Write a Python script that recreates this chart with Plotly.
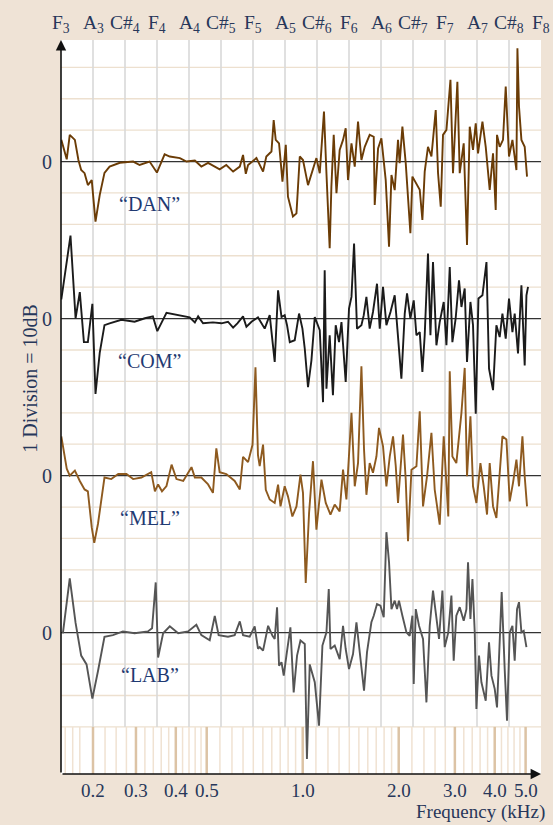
import math
import plotly.graph_objects as go

# ---------------- data ----------------
note_labels = ["F<sub>3</sub>", "A<sub>3</sub>", "C#<sub>4</sub>", "F<sub>4</sub>", "A<sub>4</sub>",
               "C#<sub>5</sub>", "F<sub>5</sub>", "A<sub>5</sub>", "C#<sub>6</sub>", "F<sub>6</sub>",
               "A<sub>6</sub>", "C#<sub>7</sub>", "F<sub>7</sub>", "A<sub>7</sub>", "C#<sub>8</sub>",
               "F<sub>8</sub>"]
note_freqs = [174.61, 220.00, 277.18, 349.23, 440.00, 554.37, 698.46, 880.00, 1108.73,
              1396.91, 1760.00, 2217.46, 2793.83, 3520.00, 4434.92, 5587.65]

khz_tick_freqs = [220, 300, 400, 500, 1000, 2000, 3000, 4000, 5000]
khz_tick_labels = ["0.2", "0.3", "0.4", "0.5", "1.0", "2.0", "3.0", "4.0", "5.0"]

ruler_minor = [180, 190, 200, 240, 260, 280, 320, 340, 360, 380, 420, 440, 460, 480,
               550, 600, 650, 700, 750, 800, 850, 900, 950,
               1100, 1200, 1300, 1400, 1500, 1600, 1700, 1800, 1900,
               2200, 2400, 2600, 2800, 3200, 3400, 3600, 3800, 4200, 4400, 4600, 4800]

dan_freq = [175, 182, 186, 193, 198, 202, 207, 212, 218, 224,
            231, 239, 248, 267, 294, 308, 331, 349, 369, 383,
            412, 432, 459, 481, 505, 549, 576, 605, 635, 650,
            663, 674, 716, 733, 751, 769, 798, 811, 823, 843,
            864, 885, 899, 932, 956, 979, 1002, 1039, 1077, 1104,
            1131, 1166, 1187, 1215, 1230, 1251, 1276, 1306, 1338, 1364,
            1387, 1422, 1456, 1491, 1528, 1565, 1622, 1670, 1682, 1723,
            1765, 1821, 1865, 1898, 1943, 1990, 2014, 2054, 2104, 2176,
            2208, 2273, 2328, 2373, 2413, 2471, 2533, 2613, 2657, 2709,
            2754, 2823, 2906, 2960, 3055, 3107, 3198, 3275, 3340, 3420,
            3488, 3546, 3661, 3749, 3858, 3952, 4029, 4067, 4147, 4247,
            4331, 4435, 4546, 4679, 4713, 4767, 4851, 4967, 5051]
dan_db = [6.9, 0.7, 8.5, 6.9, 0.5, -2.7, -3.7, -7.5, -5.9, -19.1,
          -10.6, -3.6, -1.6, -0.4, 0, -1.1, 0, -3.5, 2.3, 1.6,
          1.1, 0, 0.3, -1.6, -0.4, -2.5, -1.1, -3.2, -1.6, 2.1,
          -3.9, -1.1, 1.1, -1.1, -3.2, 1.6, 3.2, 13.2, 6.9, 5.8,
          -6.4, 5.3, -11.2, -17.5, -16.5, 1.6, 0.5, -7.5, -2.7, 1.1,
          -3.7, 15.9, -3.7, -27.6, -8.0, 8.5, -10.1, 3.7, 6.9, 10.6,
          -5.9, 5.8, -1.6, 12.7, 0.5, 4.7, 8.5, 7.9, -13.8, 4.2,
          7.4, -5.9, -27.1, -4.3, -9.1, 6.9, -0.5, 11.1, -0.5, -22.8,
          -4.8, -6.9, -9.0, -18.6, -3.2, 4.7, 1.6, 16.4, -3.7, -14.4,
          8.5, 10.1, 26.0, -3.7, 25.4, -3.7, 5.8, -26.6, 11.1, 3.7,
          12.2, 2.6, 12.7, 4.7, -9.0, 2.6, -15.4, 8.5, 4.7, 6.9,
          23.9, 1.6, 6.9, -2.7, 36.1, 17.5, 6.9, 4.7, -4.8]

com_freq = [175, 187, 194, 200, 206, 212, 219, 224, 231, 239,
            248, 270, 297, 320, 339, 350, 374, 407, 442, 459,
            470, 487, 523, 556, 583, 605, 624, 650, 666, 691,
            724, 733, 760, 788, 817, 837, 858, 878, 893, 911,
            944, 974, 998, 1015, 1039, 1065, 1091, 1131, 1158, 1172,
            1187, 1215, 1244, 1269, 1300, 1323, 1364, 1397, 1422, 1449,
            1480, 1528, 1554, 1584, 1622, 1661, 1710, 1744, 1786, 1830,
            1885, 1943, 1990, 2039, 2089, 2124, 2176, 2229, 2273, 2328,
            2373, 2413, 2471, 2515, 2562, 2626, 2689, 2768, 2823, 2891,
            2947, 3017, 3091, 3146, 3221, 3275, 3357, 3420, 3488, 3557,
            3661, 3769, 3839, 3952, 4049, 4147, 4229, 4331, 4435, 4546,
            4621, 4733, 4851, 4967, 5030, 5088]
com_db = [6.1, 26.4, 0.1, 8.4, -7.5, -7.5, 4.7, -24.0, -10.8, -2.1,
          -1.5, -0.4, -1.0, 0.1, 0.7, -4.0, 1.8, 1.0, 0.4, -1.2,
          0.7, -1.5, -1.2, -1.5, -1.0, -2.9, -1.5, 0.7, -2.6, -1.0,
          0.4, -0.5, -3.2, 1.1, -13.8, 9.0, 0.5, 1.1, -2.1, -7.5,
          -6.9, 1.6, -3.2, -9.6, -21.8, -13.3, 0.5, -3.7, -26.6, 15.4,
          -22.3, -5.3, -24.4, -2.1, -7.5, -1.1, -20.2, 3.2, 6.9, 23.9,
          -3.2, -2.1, 1.1, 6.9, -3.2, 2.1, 11.1, -3.2, 10.1, -2.1,
          2.1, 7.4, -5.3, -19.1, 1.6, 8.0, 0, 5.8, -5.3, -4.3,
          -17.0, -5.3, 20.7, -5.3, 18.0, -8.5, -1.1, 5.3, -8.5, 16.4,
          -7.5, 0, 12.2, 3.7, 9.6, -13.8, 5.3, -2.1, -30.3, 6.4,
          7.4, 18.0, -15.9, -22.8, -2.1, -5.9, 1.6, -6.4, 6.4, -4.3,
          1.6, -11.1, 10.6, -14.9, 7.4, 10.1]

mel_freq = [175, 182, 186, 193, 200, 207, 212, 218, 222, 228,
            239, 251, 264, 280, 294, 312, 335, 344, 352, 362,
            374, 388, 402, 422, 448, 459, 481, 505, 523, 536,
            549, 576, 612, 635, 650, 674, 696, 711, 724, 733,
            751, 766, 788, 817, 837, 852, 878, 899, 928, 956,
            984, 1002, 1022, 1047, 1077, 1104, 1145, 1181, 1222, 1260,
            1306, 1338, 1371, 1387, 1422, 1456, 1491, 1528, 1557, 1584,
            1622, 1661, 1703, 1735, 1786, 1830, 1875, 1920, 1958, 1990,
            2063, 2104, 2139, 2193, 2273, 2328, 2384, 2454, 2533, 2594,
            2689, 2768, 2823, 2861, 2891, 2947, 3032, 3091, 3146, 3221,
            3275, 3357, 3420, 3505, 3608, 3695, 3784, 3858, 3952, 4049,
            4147, 4229, 4353, 4458, 4565, 4679, 4767, 4886, 4967, 5051]
mel_db = [12.5, 2.2, 0, 1.6, -1.7, -4.4, -5.0, -16.5, -21.4, -15.4,
          -0.6, -1.1, 0.5, 0.5, -1.1, -0.6, 1.1, -5.0, -2.8, -5.0,
          -3.3, 3.5, -1.1, -1.7, 2.7, -0.6, -0.6, -2.8, -5.5, 8.7,
          1.1, 0.5, -1.7, -4.4, 6.0, 4.3, 9.8, 34.5, 6.5, 3.0,
          9.9, -4.5, -7.6, -8.7, -2.9, -9.8, -3.4, -6.6, -13.0, -9.8,
          0.3, -5.5, -34.2, -11.9, 4.6, -17.2, -1.3, -8.7, -12.4, -9.2,
          -11.4, 1.9, -7.6, 0.9, 20.0, -3.4, 4.0, 34.8, 8.3, -6.1,
          4.0, 0.9, 6.1, 15.2, 9.3, -3.4, 6.1, 12.5, 3.0, -8.7,
          13.1, -1.3, -20.9, 1.9, 3.0, 20.5, -9.8, -0.2, 13.6, -4.5,
          -15.6, 12.5, -2.3, -13.0, 33.2, 6.1, 4.0, 12.5, 20.0, 34.3,
          -0.2, 18.9, -3.4, -8.7, 4.0, -3.4, -12.4, 4.0, -9.8, -13.5,
          0.9, 12.5, 11.5, -8.2, -2.3, 5.1, -3.4, 12.5, -0.2, -9.8]

lab_freq = [177, 186, 194, 202, 210, 219, 228, 239, 254, 273,
            297, 327, 337, 346, 352, 365, 383, 407, 437, 464,
            481, 511, 530, 545, 583, 612, 635, 650, 682, 707,
            724, 733, 751, 779, 804, 817, 831, 843, 858, 872,
            889, 915, 937, 960, 984, 1015, 1031, 1052, 1091, 1125,
            1153, 1187, 1207, 1222, 1260, 1306, 1338, 1364, 1397, 1438,
            1474, 1509, 1557, 1591, 1642, 1670, 1710, 1753, 1795, 1830,
            1865, 1898, 1943, 1976, 2004, 2054, 2115, 2165, 2208, 2229,
            2262, 2316, 2384, 2443, 2502, 2562, 2626, 2676, 2742, 2788,
            2861, 2926, 2975, 3032, 3107, 3198, 3261, 3299, 3357, 3406,
            3463, 3505, 3572, 3634, 3749, 3839, 3907, 4000, 4067, 4147,
            4207, 4299, 4372, 4458, 4546, 4621, 4700, 4767, 4851, 4932, 5030]
lab_db = [-0.2, 17.3, 3.1, -7.3, -10.1, -21.0, -12.3, -1.3, -0.8, 0.4,
          -0.2, 0.4, 1.4, 16.0, -7.9, -0.2, 2.0, -0.2, 0.4, 2.5,
          -0.8, -2.4, 5.3, -0.8, -1.3, -0.8, 3.6, -0.8, -1.3, 2.0,
          -5.1, -4.6, -5.7, 2.2, -1.0, -2.0, 8.1, -10.5, -9.4, -13.7,
          -7.3, 1.7, -19.0, -7.3, -2.5, -3.6, -40.2, -10.1, -15.8, -29.6,
          -4.1, 0.1, 13.9, -5.2, -4.1, -8.4, 2.2, -5.2, -11.6, -6.8,
          3.3, -5.2, -18.5, -6.2, 3.3, 5.4, 9.1, 8.6, 4.9, 32.0,
          22.4, 7.5, 10.2, 7.5, 10.2, 5.4, 0.1, -1.0, 5.4, -16.3,
          7.5, 2.2, -2.0, -22.2, 2.2, 13.4, 4.4, -2.0, 13.4, -4.6,
          0.1, 11.8, -8.9, 5.4, 8.1, 3.8, 7.5, 22.4, 4.4, 17.1,
          0.1, -24.3, -7.3, -15.8, -21.7, -3.1, -13.7, -17.9, -23.8, -4.1,
          12.9, -11.6, -28.0, 0.1, 2.2, -8.9, 7.5, 9.7, 0.1, 0.6, -4.6]

series_names = ["DAN", "COM", "MEL", "LAB"]
series_freqs = [dan_freq, com_freq, mel_freq, lab_freq]
series_dbs = [dan_db, com_db, mel_db, lab_db]

# ---------------- styling / layout constants ----------------
offsets = [0, -50, -100, -150]          # vertical placement of each curve (dB)
colors = ["#6b3c06", "#1b1b1b", "#8e5a1f", "#555555"]
Y_TOP, Y_BOT, GRID_BOT = 38.7, -195.0, -180
F_LO, F_HI = note_freqs[0], note_freqs[-1]
SERIF = "Liberation Serif, Times New Roman, serif"
TXT = "#27375a"
LBL = "#1f3a72"
BG = "#efe3d6"

fig = go.Figure()

# horizontal grid (10 dB divisions)
hx, hy = [], []
v = 30
while v >= GRID_BOT:
    if v not in offsets:
        hx += [F_LO, F_HI, None]
        hy += [v, v, None]
    v -= 10
fig.add_trace(go.Scatter(x=hx, y=hy, mode="lines", line=dict(color="#ede0cf", width=1.3),
                         hoverinfo="skip", showlegend=False))

# vertical grid at note frequencies
vx, vy = [], []
for f in note_freqs[1:-1]:
    vx += [f, f, None]
    vy += [GRID_BOT, Y_TOP, None]
fig.add_trace(go.Scatter(x=vx, y=vy, mode="lines", line=dict(color="#d9d9d9", width=1.6),
                         hoverinfo="skip", showlegend=False))

# ruler strip
rx, ry = [], []
for f in ruler_minor:
    rx += [f, f, None]
    ry += [GRID_BOT, Y_BOT, None]
fig.add_trace(go.Scatter(x=rx, y=ry, mode="lines", line=dict(color="#f0e2d2", width=1.5),
                         hoverinfo="skip", showlegend=False))
rx, ry = [], []
for f in khz_tick_freqs:
    rx += [f, f, None]
    ry += [GRID_BOT, Y_BOT, None]
fig.add_trace(go.Scatter(x=rx, y=ry, mode="lines", line=dict(color="#dcc3a5", width=2.5),
                         hoverinfo="skip", showlegend=False))

# zero lines
zx, zy = [], []
for o in offsets:
    zx += [F_LO, F_HI, None]
    zy += [o, o, None]
fig.add_trace(go.Scatter(x=zx, y=zy, mode="lines", line=dict(color="#333333", width=1.3),
                         hoverinfo="skip", showlegend=False))

# spectra
for name, fr, db, o, c in zip(series_names, series_freqs, series_dbs, offsets, colors):
    fig.add_trace(go.Scatter(x=fr, y=[d + o for d in db], mode="lines", name=name,
                             line=dict(color=c, width=1.9), hoverinfo="skip", showlegend=False))

ann = []
for f, lab in zip(note_freqs, note_labels):
    ann.append(dict(x=math.log10(f), xref="x", y=1, yref="paper", yanchor="bottom",
                    yshift=2, text=lab, showarrow=False,
                    font=dict(family=SERIF, size=19.5, color=TXT)))
for f, lab in zip(khz_tick_freqs, khz_tick_labels):
    ann.append(dict(x=math.log10(f), xref="x", y=0, yref="paper", yanchor="top",
                    yshift=-4, text=lab, showarrow=False,
                    font=dict(family=SERIF, size=19, color=TXT)))
for o in offsets:
    ann.append(dict(x=0, xref="paper", y=o, yref="y", xanchor="right", xshift=-7,
                    text="0", showarrow=False, font=dict(family=SERIF, size=20, color=TXT)))
for name, o in zip(series_names, offsets):
    ann.append(dict(x=math.log10(331), xref="x", y=o - 13.6, yref="y",
                    text="\u201c" + name + "\u201d", showarrow=False,
                    font=dict(family=SERIF, size=20, color=LBL)))
ann.append(dict(x=-0.0646, xref="paper", y=0.54, yref="paper", xanchor="center",
                yanchor="middle", textangle=-90,
                text="1 Division = 10dB", showarrow=False,
                font=dict(family=SERIF, size=20, color=TXT)))
ann.append(dict(x=1.013, xref="paper", y=0, yref="paper", xanchor="right", yanchor="middle",
                yshift=-38, text="Frequency (kHz)", showarrow=False,
                font=dict(family=SERIF, size=19, color=TXT)))
# axis arrows
ann.append(dict(x=0, y=1, xref="paper", yref="paper", ax=0, ay=734, text="",
                showarrow=True, arrowhead=2, arrowsize=1.3, arrowwidth=1.6,
                arrowcolor="#111111", standoff=0, startstandoff=0))
ann.append(dict(x=1, y=0, xref="paper", yref="paper", ax=-480, ay=0, text="",
                showarrow=True, arrowhead=2, arrowsize=1.3, arrowwidth=1.6,
                arrowcolor="#111111", standoff=0, startstandoff=0))

fig.update_layout(
    width=553, height=825,
    margin=dict(l=61, r=12, t=40, b=51),
    paper_bgcolor=BG, plot_bgcolor="white",
    showlegend=False,
    annotations=ann,
    xaxis=dict(type="log", range=[math.log10(F_LO), math.log10(F_HI)], showgrid=False,
               zeroline=False, showticklabels=False, ticks="", showline=False, fixedrange=True),
    yaxis=dict(range=[Y_BOT, Y_TOP], showgrid=False, zeroline=False, showticklabels=False,
               ticks="", showline=False, fixedrange=True),
)

fig.write_html("out.html")
